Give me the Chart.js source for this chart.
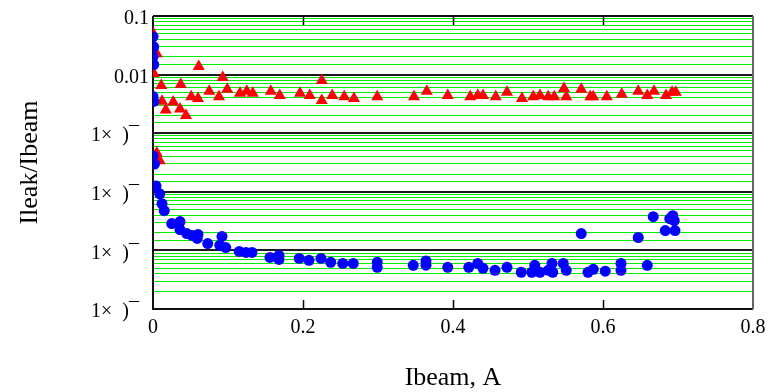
<!DOCTYPE html>
<html>
<head>
<meta charset="utf-8">
<script src="https://cdn.jsdelivr.net/npm/chart.js@4/dist/chart.umd.min.js"></script>
<style>
html,body{margin:0;padding:0;background:#fff;}
#c{display:block;}
</style>
</head>
<body>
<canvas id="c" width="774" height="392" style="width:774px;height:392px"></canvas>
<script>
// ---- data ----
const xTickValues = [0, 0.2, 0.4, 0.6, 0.8];
const xTickLabels = ['0', '0.2', '0.4', '0.6', '0.8'];
const yDecades = [0.1, 0.01, 1e-3, 1e-4, 1e-5, 1e-6];
const yTickLabels = ['0.1', '0.01', '1×  )¯  ', '1×  )¯  ', '1×  )¯  ', '1×  )¯  '];
const xTitle = 'Ibeam, A';
const yTitle = 'Ileak/Ibeam';

// red triangles
const redX = [0.000, 0.005, 0.001, 0.011, 0.037, 0.061, 0.093, 0.012, 0.027, 0.017,
  0.036, 0.044, 0.051, 0.060, 0.075, 0.088, 0.099, 0.116, 0.125, 0.133,
  0.157, 0.169, 0.196, 0.209, 0.225, 0.225, 0.239, 0.255, 0.268, 0.299,
  0.348, 0.365, 0.393, 0.423, 0.433, 0.440, 0.457, 0.472, 0.492, 0.507,
  0.516, 0.527, 0.535, 0.548, 0.551, 0.571, 0.583, 0.587, 0.605, 0.625,
  0.647, 0.659, 0.668, 0.684, 0.692, 0.697, 0.005, 0.009];
const redY = [0.0515, 0.0227, 0.0104, 0.0065, 0.0068, 0.0137, 0.0089, 0.0035, 0.0034, 0.0025,
  0.0026, 0.0020, 0.0042, 0.0039, 0.0052, 0.0042, 0.0056, 0.0048, 0.0052, 0.0048,
  0.0052, 0.0044, 0.0048, 0.0044, 0.0079, 0.0036, 0.0044, 0.0042, 0.0039, 0.0042,
  0.0042, 0.0052, 0.0044, 0.0042, 0.0044, 0.0044, 0.0042, 0.0050, 0.0039, 0.0042,
  0.0044, 0.0042, 0.0042, 0.0058, 0.0042, 0.0056, 0.0042, 0.0042, 0.0042, 0.0046,
  0.0052, 0.0044, 0.0052, 0.0044, 0.0050, 0.0050, 0.00046, 0.00034];

// blue circles
const blueX = [0.000, 0.001, 0.000, 0.001, 0.000, 0.001, 0.000, 0.002, 0.004, 0.009,
  0.012, 0.015, 0.025, 0.036, 0.036, 0.045, 0.052, 0.060, 0.059, 0.073,
  0.092, 0.089, 0.097, 0.115, 0.124, 0.132, 0.156, 0.168, 0.168, 0.195,
  0.208, 0.224, 0.237, 0.253, 0.267, 0.299, 0.299, 0.347, 0.364, 0.364,
  0.393, 0.421, 0.433, 0.440, 0.456, 0.472, 0.491, 0.509, 0.505, 0.516,
  0.527, 0.532, 0.533, 0.547, 0.551, 0.580, 0.587, 0.603, 0.624, 0.624,
  0.659, 0.571, 0.647, 0.667, 0.683, 0.693, 0.695, 0.696, 0.689];
const blueY = [0.0441, 0.0298, 0.0202, 0.0148, 0.00424, 0.00348, 4.07e-4, 2.98e-4, 1.26e-4, 9.25e-5,
  6.26e-5, 4.76e-5, 2.87e-5, 3.10e-5, 2.27e-5, 1.94e-5, 1.80e-5, 1.87e-5, 1.60e-5, 1.31e-5,
  1.73e-5, 1.22e-5, 1.12e-5, 9.6e-6, 9.25e-6, 9.25e-6, 7.6e-6, 8.2e-6, 7.0e-6, 7.3e-6,
  6.76e-6, 7.3e-6, 6.26e-6, 6.0e-6, 6.0e-6, 6.26e-6, 5.15e-6, 5.57e-6, 6.6e-6, 5.6e-6,
  5.15e-6, 5.15e-6, 6.0e-6, 4.95e-6, 4.58e-6, 5.15e-6, 4.24e-6, 5.57e-6, 4.24e-6, 4.24e-6,
  4.58e-6, 6.0e-6, 4.24e-6, 6.0e-6, 4.58e-6, 4.24e-6, 4.76e-6, 4.41e-6, 6.0e-6, 4.58e-6,
  5.57e-6, 1.94e-5, 1.66e-5, 3.77e-5, 2.18e-5, 3.92e-5, 3.22e-5, 2.18e-5, 3.48e-5];

// ---- chart ----
const FONT = "'Liberation Serif', 'Times New Roman', serif";
const isDecade = v => Math.abs(Math.log10(v) - Math.round(Math.log10(v))) < 1e-6;
const zip = (xs, ys) => xs.map((x, i) => ({x: x, y: ys[i]}));

const framePlugin = {
  id: 'frame',
  beforeDatasetsDraw(chart) {
    const {ctx, chartArea: a, scales: {x}} = chart;
    ctx.save();
    ctx.lineCap = 'butt';
    // inner tick marks on top and bottom
    ctx.strokeStyle = '#000';
    ctx.lineWidth = 1.5;
    xTickValues.forEach(v => {
      if (v === x.min || v === x.max) return;
      const px = Math.round(x.getPixelForValue(v)) + 0.5;
      ctx.beginPath();
      ctx.moveTo(px, a.bottom); ctx.lineTo(px, a.bottom - 9);
      ctx.moveTo(px, a.top); ctx.lineTo(px, a.top + 9);
      ctx.stroke();
    });
    // frame
    ctx.lineWidth = 2;
    ctx.strokeStyle = '#111';
    ctx.beginPath();
    ctx.moveTo(a.left, a.top); ctx.lineTo(a.left, a.bottom); ctx.lineTo(a.right, a.bottom);
    ctx.moveTo(a.left, a.top); ctx.lineTo(a.right, a.top);
    ctx.stroke();
    ctx.strokeStyle = '#666';
    ctx.beginPath();
    ctx.moveTo(a.right, a.top); ctx.lineTo(a.right, a.bottom);
    ctx.stroke();
    ctx.restore();
  }
};

new Chart(document.getElementById('c'), {
  type: 'scatter',
  data: {
    datasets: [
      {
        label: 'blue',
        data: zip(blueX, blueY),
        pointStyle: 'circle',
        pointRadius: 5.5,
        pointBackgroundColor: '#0000ff',
        pointBorderColor: '#0000ff',
        pointBorderWidth: 0,
        clip: 0
      },
      {
        label: 'red',
        data: zip(redX, redY),
        pointStyle: 'triangle',
        pointRadius: 7,
        pointBackgroundColor: '#ff0000',
        pointBorderColor: '#ff0000',
        pointBorderWidth: 0,
        clip: 0
      }
    ]
  },
  options: {
    responsive: false,
    animation: false,
    devicePixelRatio: 1,
    layout: {padding: {left: 0, right: 21, top: 14, bottom: 0}},
    plugins: {legend: {display: false}, tooltip: {enabled: false}},
    scales: {
      x: {
        type: 'linear',
        min: 0, max: 0.8,
        afterBuildTicks: s => { s.ticks = xTickValues.map(v => ({value: v})); },
        afterFit: s => { s.height = 83; },
        ticks: {
          callback: (v, i) => xTickLabels[i],
          font: {family: FONT, size: 20},
          color: '#000',
          padding: 7,
          maxRotation: 0,
          autoSkip: false
        },
        grid: {display: false, drawTicks: false},
        border: {display: false},
        title: {
          display: true, text: xTitle, color: '#000',
          font: {family: FONT, size: 26, lineHeight: 1.1},
          padding: {top: 0, bottom: 0}
        }
      },
      y: {
        type: 'logarithmic',
        min: 1e-6, max: 0.1,
        afterFit: s => { s.width = 153; },
        ticks: {
          autoSkip: false,
          callback: (v) => {
            if (!isDecade(v)) return '';
            const i = yDecades.findIndex(d => Math.abs(Math.log10(d) - Math.log10(v)) < 1e-6);
            return i >= 0 ? yTickLabels[i] : '';
          },
          font: {family: FONT, size: 20},
          color: '#000',
          padding: 4,
          labelOffset: 3
        },
        grid: {
          drawTicks: false,
          color: c => isDecade(c.tick.value) ? '#1a1a1a' : '#00ee00',
          lineWidth: c => isDecade(c.tick.value) ? 2 : 1
        },
        border: {display: false},
        title: {
          display: true, text: yTitle, color: '#000',
          font: {family: FONT, size: 26, lineHeight: 1.2},
          padding: {top: 14.5, bottom: 0}
        }
      }
    }
  },
  plugins: [framePlugin]
});
</script>
</body>
</html>
